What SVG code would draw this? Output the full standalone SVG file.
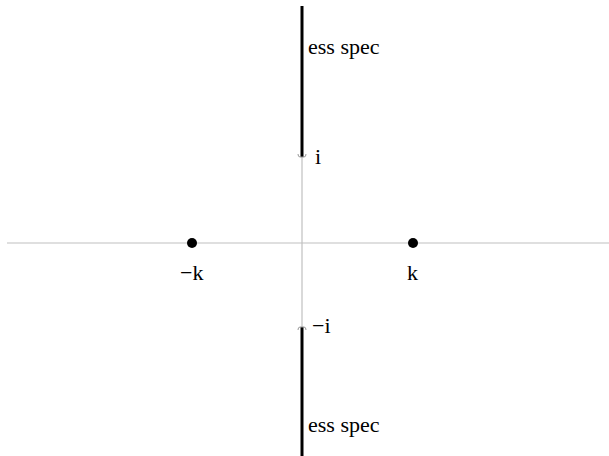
<svg xmlns="http://www.w3.org/2000/svg" width="609" height="456" viewBox="0 0 609 456">
<style>
.axis{stroke:#c0c0c0;stroke-width:1.2;fill:none}
.spec{stroke:#000;stroke-width:3;fill:none}
.tick{stroke:#999;stroke-width:1;fill:none}
.lbl{font-family:"Liberation Serif","Times New Roman",serif;font-size:22px;fill:#000}
.pt{fill:#000}
</style>
<rect width="609" height="456" fill="#fff"/>
<g id="connectors">
<line class="axis" x1="7" y1="243" x2="609" y2="243"/>
<line class="axis" x1="302" y1="6" x2="302" y2="456"/>
<line class="spec" x1="302" y1="6" x2="302" y2="157"/>
<line class="spec" x1="302" y1="327" x2="302" y2="456"/>
<path class="tick" d="M298,154 Q298,157 300,157 L304,157 Q306,157 306,154"/>
<path class="tick" d="M298,330 Q298,327 300,327 L304,327 Q306,327 306,330"/>
</g>
<g id="ess-spec-top"><text class="lbl" x="308" y="54">ess spec</text></g>
<g id="i-label"><text class="lbl" x="315" y="164">i</text></g>
<g id="minus-i-label"><text class="lbl" x="312" y="333">−i</text></g>
<g id="ess-spec-bottom"><text class="lbl" x="308" y="432">ess spec</text></g>
<g id="minus-k"><circle class="pt" cx="192" cy="243" r="5"/><text class="lbl" x="180" y="280">−k</text></g>
<g id="k"><circle class="pt" cx="413" cy="243" r="5"/><text class="lbl" x="407" y="280">k</text></g>
</svg>
